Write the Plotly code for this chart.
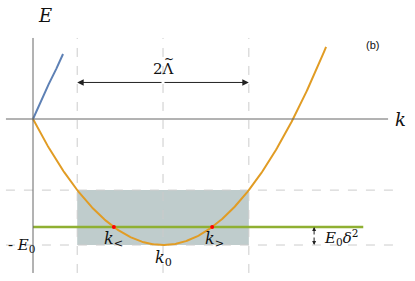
import numpy as np
import plotly.graph_objects as go

# Parameters (units: k0 = 1, E0 = 1)
k0 = 1.0
E0 = 1.0
Lam = 0.66          # Lambda tilde (half-width of shaded band)
delta = 0.378       # E0*delta^2 offset of green level
k_end = 2.254       # end of orange dispersion

# blue branch sample points
blue_k = [0.0, 0.06, 0.12, 0.18, 0.231]
blue_E = [0.0, 0.14, 0.275, 0.40, 0.516]

k_par = np.linspace(0, k_end, 300)
E_par = E0 * ((k_par - k0) ** 2 / k0 ** 2 - 1)

E_band_top = -E0 + E0 * Lam ** 2
E_level = -E0 + E0 * delta ** 2
k_lt = k0 - delta
k_gt = k0 + delta

xr = [-0.2538, 2.938]
yr = [-1.2857, 0.9444]

ORANGE = "#E19C24"
BLUE = "#5E81B5"
GREEN = "#8FB032"
GRAY = "#666666"
DASH = "#cccccc"
SERIF = "DejaVu Serif"

fig = go.Figure()

# shaded region
fig.add_shape(type="rect", x0=k0 - Lam, x1=k0 + Lam, y0=-E0, y1=E_band_top,
              fillcolor="#bfcccc", line_width=0, layer="below")

# dashed guide lines
for kx in [k0 - Lam, k0, k0 + Lam]:
    fig.add_shape(type="line", x0=kx, x1=kx, y0=-1.222, y1=0.643,
                  line=dict(color=DASH, width=1, dash="dash"), layer="below")
for ey in [E_band_top, -E0]:
    fig.add_shape(type="line", x0=-0.208, x1=2.80, y0=ey, y1=ey,
                  line=dict(color=DASH, width=1, dash="dash"), layer="below")

# axes
fig.add_shape(type="line", x0=-0.208, x1=2.731, y0=0, y1=0,
              line=dict(color=GRAY, width=1))
fig.add_shape(type="line", x0=0, x1=0, y0=-1.222, y1=0.643,
              line=dict(color=GRAY, width=1))

# green level
fig.add_trace(go.Scatter(x=[0, 2.54], y=[E_level, E_level], mode="lines",
                         line=dict(color=GREEN, width=2.5), hoverinfo="skip"))
# orange parabola
fig.add_trace(go.Scatter(x=k_par, y=E_par, mode="lines",
                         line=dict(color=ORANGE, width=2), hoverinfo="skip"))
# blue branch
fig.add_trace(go.Scatter(x=blue_k, y=blue_E, mode="lines",
                         line=dict(color=BLUE, width=2), hoverinfo="skip"))
# red crossing points
fig.add_trace(go.Scatter(x=[k_lt, k_gt], y=[E_level, E_level], mode="markers",
                         marker=dict(color="red", size=4), hoverinfo="skip"))

ann = []
# double arrow 2Lambda
for xa, xt in [(k0 - Lam, k0), (k0 + Lam, k0)]:
    ann.append(dict(x=xa, y=0.29, ax=xt, ay=0.29, xref="x", yref="y",
                    axref="x", ayref="y", showarrow=True, arrowhead=2,
                    arrowsize=1.3, arrowwidth=1, arrowcolor="#222", text=""))
# small E0 delta^2 arrow
for ya, yt in [(E_level, (E_level - E0) / 2), (-E0, (E_level - E0) / 2)]:
    ann.append(dict(x=2.162, y=ya, ax=2.162, ay=yt, xref="x", yref="y",
                    axref="x", ayref="y", showarrow=True, arrowhead=2,
                    arrowsize=0.8, arrowwidth=1, arrowcolor="#222", text=""))

def lab(x, y, t, size=15, fam=SERIF, **kw):
    ann.append(dict(x=x, y=y, xref="x", yref="y", text=t, showarrow=False,
                    font=dict(family=fam, size=size, color="#111"), **kw))

lab(0.09, 0.82, "<i>E</i>", 18)
lab(2.83, 0.0, "<i>k</i>", 18)
lab(k0, 0.40, "2\u039b", 15)
lab(k0 + 0.045, 0.475, "~", 12)
lab(2.612, 0.59, "(b)", 11, fam="Liberation Sans")
lab(-0.085, -E0, "- <i>E</i><sub>0</sub>", 15)
lab(k_lt + 0.0, E_level - 0.10, "<i>k</i><sub>&lt;</sub>", 16)
lab(k_gt + 0.02, E_level - 0.10, "<i>k</i><sub>&gt;</sub>", 16)
lab(k0, -1.11, "<i>k</i><sub>0</sub>", 16)
lab(2.37, E_level - 0.08, "<i>E</i><sub>0</sub><i>\u03b4</i><sup>2</sup>", 15)

fig.update_layout(
    width=415, height=281, margin=dict(l=0, r=0, t=0, b=0),
    paper_bgcolor="white", plot_bgcolor="white", showlegend=False,
    xaxis=dict(range=xr, visible=False, fixedrange=True),
    yaxis=dict(range=yr, visible=False, fixedrange=True),
    annotations=ann,
)
fig.write_html("out.html", config={"displayModeBar": False},
               post_script="document.body.style.margin='0px';document.body.style.overflow='hidden';")
